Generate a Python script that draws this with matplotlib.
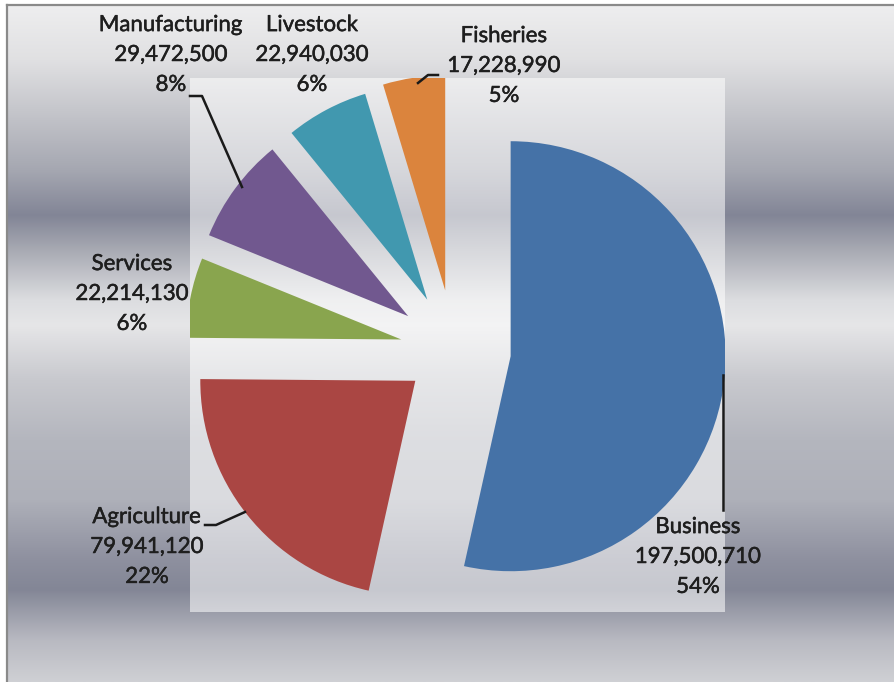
import numpy as np
import matplotlib.pyplot as plt
import matplotlib.patheffects as pe
from matplotlib.colors import to_rgb
from matplotlib.patches import Rectangle

# sector totals
sectors = ["Business", "Agriculture", "Services", "Manufacturing", "Livestock", "Fisheries"]
amounts = [197500710, 79941120, 22214130, 29472500, 22940030, 17228990]
pct_labels = ["54%", "22%", "6%", "8%", "6%", "5%"]
colors = ["#4572A7", "#AA4643", "#89A54E", "#71588F", "#4198AF", "#DB843D"]
pull = [0.265, 0.23, 0.25, 0.265, 0.265, 0.28]

W, H = 895, 682
R = 215
CENTER = (454, H - 350)

# label anchors and leader lines, in pixels from the top-left corner
label_pos = [(698, 557), (147, 547), (132, 294), (171, 55), (312, 55), (504, 66)]
leaders = {
    "Business": [(723, 375), (723, 510)],
    "Agriculture": [(205, 525), (216, 525), (245, 512)],
    "Manufacturing": [(190, 96), (202, 96), (242, 187)],
    "Fisheries": [(418, 83), (428, 75), (438, 75)],
}

# metallic banding behind the chart
band_y = [5, 60, 120, 170, 215, 250, 300, 325, 380, 440, 500, 560, 590, 640, 682]
band_c = ["#eeeeef", "#e0e0e2", "#c0c1c7", "#a5a7b1", "#828596", "#a8aab3", "#dcdde0",
          "#e6e6e8", "#c8c9ce", "#b4b6be", "#aeb0b9", "#8e909f", "#838696", "#b8b9c1", "#cfd0d4"]

fig = plt.figure(figsize=(W / 100, H / 100), dpi=100)
fig.patch.set_facecolor("white")
ax = fig.add_axes([0, 0, 1, 1])

rows = np.linspace(5, H, 600)
rgb = np.array([to_rgb(c) for c in band_c])
grad = np.stack([np.interp(rows, band_y, rgb[:, k]) for k in range(3)], axis=-1)
ax.imshow(grad[:, None, :], extent=(7, W, 0, H - 5), aspect="auto", origin="upper",
          interpolation="bilinear", zorder=0)

ax.plot([7, 7], [0, H - 5], color="#8a8a8a", lw=1.6, zorder=1)
ax.plot([7, W], [H - 5, H - 5], color="#8a8a8a", lw=1.6, zorder=1)

# lighter plot area
px0, py0, px1, py1 = 190, 78, 725, 612
ax.add_patch(Rectangle((px0, H - py1), px1 - px0, py1 - py0, facecolor="white",
                       alpha=0.55, edgecolor="none", zorder=1))
clip = Rectangle((px0, H - py1), px1 - px0, py1 - py0, transform=ax.transData)

wedges, _ = ax.pie(amounts, explode=[p * R for p in pull], colors=colors, startangle=90,
                   counterclock=False, radius=R, center=CENTER, frame=True,
                   wedgeprops=dict(linewidth=0))
for w in wedges:
    w.set_zorder(2)
    w.set_clip_on(True)
    w.set_clip_path(clip)

heavier = [pe.withStroke(linewidth=0.35, foreground="#1e1e1e")]
for name, amt, pct, (lx, ly) in zip(sectors, amounts, pct_labels, label_pos):
    ax.text(lx, H - ly, f"{name}\n{amt:,}\n{pct}", ha="center", va="center",
            fontsize=16, family="Lato", color="#1e1e1e", linespacing=1.62, zorder=3,
            path_effects=heavier)
    if name in leaders:
        xs = [p[0] for p in leaders[name]]
        ys = [H - p[1] for p in leaders[name]]
        ax.plot(xs, ys, color="#1a1a1a", lw=1.8, zorder=3)

ax.set_xlim(0, W)
ax.set_ylim(0, H)
ax.set_aspect("auto")
ax.axis("off")

fig.savefig("out.png", dpi=100)
